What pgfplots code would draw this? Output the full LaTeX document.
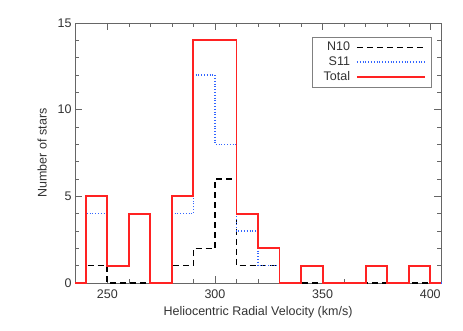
\documentclass[border=0pt]{standalone}
\usepackage{fontspec}
\setmainfont{Liberation Sans}
\usepackage{pgfplots}
\pgfplotsset{compat=1.18}
\definecolor{totred}{HTML}{FF2222}
\definecolor{sblue}{HTML}{3366FF}

\begin{document}
\begin{tikzpicture}[x=1pt,y=1pt]
\useasboundingbox (-75,-48) rectangle (388,283);
\begin{axis}[
  at={(0,0)}, anchor=south west,
  scale only axis,
  width=366pt, height=260pt,
  xmin=235, xmax=405, ymin=0, ymax=15,
  xtick={250,300,350,400}, minor x tick num=4,
  ytick={0,5,10,15}, minor y tick num=4,
  major tick length=7pt, minor tick length=4pt,
  axis line style={black!60},
  every tick/.style={black!60},
  tick label style={font=\fontsize{12.5}{14}\selectfont, text=black!80},
  label style={font=\fontsize{12.5}{14}\selectfont, text=black!80},
  xticklabel style={yshift=-3pt},
  /pgf/number format/assume math mode=true,
  xlabel={Heliocentric Radial Velocity (km/s)},
  ylabel={Number of stars},
  xlabel style={yshift=-1pt},
  ylabel style={yshift=4pt},
  clip=false,
  legend plot pos=right,
  legend cell align=right,
  legend style={at={(0.973,0.946)}, anchor=north east, draw=black!50,
    font=\fontsize{12.5}{13}\selectfont, text=black!80,
    row sep=0.5pt, inner xsep=5pt, inner ysep=3pt,
    nodes={inner xsep=6pt}},
  legend image code/.code={\draw[#1] (0pt,0pt) -- (68pt,0pt);},
]
\addplot[const plot, black, line width=1.6pt, dash pattern=on 6pt off 4pt] coordinates {
  (235,0) (240,1) (250,0) (260,0) (270,0) (280,1) (290,2) (300,6) (310,1) (320,1)
  (330,0) (340,0) (350,0) (360,0) (370,0) (380,0) (390,0) (400,0) (405,0)
};
\addlegendentry{N10}
\addplot[const plot, sblue, line width=1.4pt, dash pattern=on 1pt off 1.8pt] coordinates {
  (235,0) (240,4) (250,1) (260,4) (270,0) (280,4) (290,12) (300,8) (310,3) (320,1)
  (330,0) (340,1) (350,0) (360,0) (370,1) (380,0) (390,1) (400,0) (405,0)
};
\addlegendentry{S11}
\addplot[const plot, totred, line width=1.9pt] coordinates {
  (235,0) (240,5) (250,1) (260,4) (270,0) (280,5) (290,14) (300,14) (310,4) (320,2)
  (330,0) (340,1) (350,0) (360,0) (370,1) (380,0) (390,1) (400,0) (405,0)
};
\addlegendentry{Total}
\end{axis}
\end{tikzpicture}
\end{document}
